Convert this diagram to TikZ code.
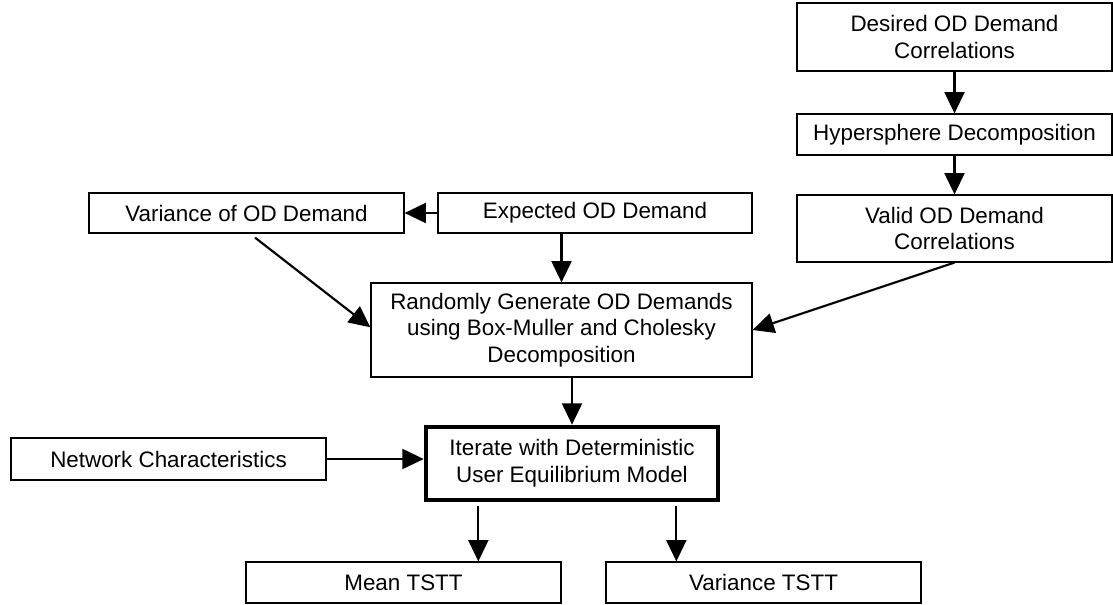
\documentclass[tikz,border=0pt]{standalone}
\usepackage{fontspec}
\setmainfont{Liberation Sans}
\usetikzlibrary{arrows.meta}

\begin{document}
\begin{tikzpicture}[x=0.75pt, y=-0.75pt,
        box/.style={draw, line width=0.9pt, minimum width=236.25pt, minimum height=30pt, inner sep=0pt, align=center, font=\fontsize{16.8}{20}\selectfont},
        arr/.style={line width=1.6pt, -{Triangle[length=16pt, width=15pt]}}]
        \useasboundingbox (0, 0) rectangle (1113, 604);

        \node [box, minimum height=51pt] (desired) at (954.5, 37) {Desired OD Demand\\Correlations};
        \node [box, minimum height=30.75pt] (hyper) at (954.5, 134.5) {Hypersphere Decomposition};
        \node [box, minimum height=50.25pt] (valid) at (954.5, 228.5) {Valid OD Demand\\Correlations};
        \node [box, minimum width=235.5pt] (expected) at (595, 213) {Expected OD Demand};
        \node [box] (variance) at (246.5, 213) {Variance of OD Demand};
        \node [box, minimum width=285.75pt, minimum height=70.5pt] (random) at (561.5, 330) {Randomly Generate OD Demands\\using Box-Muller and Cholesky\\Decomposition};
        \node [box, minimum height=31.5pt] (network) at (168.5, 459) {Network Characteristics};
        \node [box, line width=3.5pt, minimum width=219pt, minimum height=54.75pt] (iterate) at (572, 463.5) {Iterate with Deterministic\\User Equilibrium Model};
        \node [box, minimum height=30.75pt] (mean) at (403.5, 582.5) {Mean TSTT};
        \node [box, minimum height=30.75pt] (vartstt) at (763.5, 582.5) {Variance TSTT};

        \draw [arr] (desired) -- (hyper);
        \draw [arr] (hyper) -- (valid);
        \draw [arr] (expected) -- (variance);
        \draw [arr] (random.north |- expected.south) -- (random.north);
        \draw [arr] ([xshift=6.4pt, yshift=-3pt]variance.south) -- ([yshift=2pt]random.west);
        \draw [arr] (valid.south) -- (random.east);
        \draw [arr] (iterate.north |- random.south) -- (iterate.north);
        \draw [arr] (network.east) -- (network.east -| iterate.west);
        \draw [arr] ([xshift=41pt, yshift=-3pt]iterate.south west) -- ([xshift=41pt]iterate.south west |- mean.north);
        \draw [arr] ([xshift=-33pt, yshift=-3pt]iterate.south east) -- ([xshift=-33pt]iterate.south east |- vartstt.north);
    \end{tikzpicture}
\end{document}
